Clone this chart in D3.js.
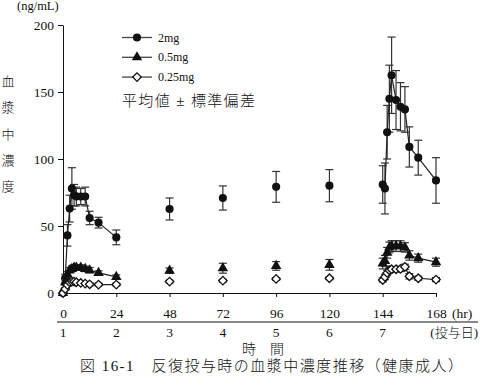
<!DOCTYPE html>
<html>
<head>
<meta charset="utf-8">
<script src="https://cdn.jsdelivr.net/npm/d3@7"></script>
<style>
  body { margin: 0; background: #fff; }
  svg text { font-family: "Liberation Serif", "Noto Sans CJK JP", serif; fill: #111; }
  svg text.jp { font-weight: 300; }
</style>
</head>
<body>
<div id="canvas"></div>
<script>
// sampling times (hr)
var day1Hours = [0, 1, 2, 3, 4, 5, 6, 8, 10, 12, 16, 24];
var troughHours = [48, 72, 96, 120];
var day7Hours = [144, 145, 146, 147, 148, 150, 152, 154, 156, 160, 168];

// 2mg
var mean2mgDay1 = [0, 11, 43, 63, 78, 73, 72, 72, 72, 56, 52.5, 41.5];
var sd2mgDay1 = [0, 3, 8, 10, 15.5, 8, 7, 6, 7, 5, 4, 5.5];
var mean2mgTrough = [62.7, 70.9, 79.2, 80.1];
var sd2mgTrough = [8.2, 9, 11.5, 12];
var mean2mgDay7 = [81, 78, 120, 145, 162.5, 144, 139, 137, 109, 101, 84];
var sd2mgDay7 = [14, 19, 20, 25, 28.5, 22, 18, 17, 15, 13, 17];

// 0.5mg
var mean05Day1 = [0, 8, 14, 17, 18, 19, 19, 19, 18, 17, 15, 12];
var sd05Day1 = [0, 2, 2, 2, 2, 2, 2, 2, 2, 2, 1.5, 1.5];
var mean05Trough = [16.7, 18.5, 20.2, 21];
var sd05Trough = [2, 3.7, 3.2, 4];
var mean05Day7 = [22, 24, 30, 34, 35, 35, 35, 34, 28, 26, 23];
var sd05Day7 = [4, 4, 4, 4, 4, 4, 4, 3.5, 3.5, 3, 3];

// 0.25mg
var mean025Day1 = [0, 3, 6, 8, 8.5, 8.5, 8, 7.5, 7, 6.5, 6.3, 6.3];
var sd025Day1 = [0, 1, 1, 1, 1, 1, 1, 1, 1, 1, 1, 1];
var mean025Trough = [8.5, 9.2, 10.5, 11];
var sd025Trough = [1, 1, 1, 1];
var mean025Day7 = [9.7, 12, 15, 17, 17.7, 17.7, 18, 19.5, 12.5, 11, 10];
var sd025Day7 = [1.5, 2, 2, 2, 2, 2, 2, 2, 2, 1.5, 1.5];

var hourTicks = [0, 24, 48, 72, 96, 120, 144, 168];
var dayLabels = ['1', '2', '3', '4', '5', '6', '7'];
var yTicks = [0, 50, 100, 150, 200];
var seriesNames = ['2mg', '0.5mg', '0.25mg'];

var W = 480, H = 376;
var svg = d3.select('#canvas').append('svg').attr('width', W).attr('height', H);

var x = d3.scaleLinear().domain([0, 168]).range([63, 436]);
var y = d3.scaleLinear().domain([0, 200]).range([293, 25]);

// axes
var yAxis = svg.append('g').attr('transform', 'translate(' + x(0) + ',0)')
  .call(d3.axisLeft(y).tickValues(yTicks).tickSize(5).tickSizeOuter(0).tickPadding(4));
yAxis.selectAll('text').style('font-size', '13.5px');

var xAxis = svg.append('g').attr('transform', 'translate(0,' + y(0) + ')')
  .call(d3.axisBottom(x).tickValues(hourTicks).tickSize(4).tickSizeOuter(0).tickPadding(11));
xAxis.selectAll('text').style('font-size', '13.5px');
svg.selectAll('.domain, .tick line').attr('stroke', '#111');

svg.append('text').attr('x', 452).attr('y', 318).style('font-size', '13.5px').text('(hr)');

svg.append('line').attr('x1', 57).attr('x2', 478).attr('y1', 322).attr('y2', 322)
  .attr('stroke', '#888').attr('stroke-width', 2);

svg.selectAll('.day').data(dayLabels).enter().append('text')
  .attr('class', 'day')
  .attr('x', function(d, i) { return x(hourTicks[i]); })
  .attr('y', 337).attr('text-anchor', 'middle').style('font-size', '13.5px')
  .text(function(d) { return d; });
svg.append('text').attr('class', 'jp').attr('x', 478).attr('y', 337).attr('text-anchor', 'end')
  .style('font-size', '13px').text('(投与日)');

svg.append('text').attr('class', 'jp').attr('x', 263).attr('y', 354).attr('text-anchor', 'middle')
  .style('font-size', '14px').text('時　間');
svg.append('text').attr('class', 'jp').attr('x', 80).attr('y', 371)
  .attr('textLength', 383).attr('lengthAdjust', 'spacing')
  .style('font-size', '15px').text('図 16-1　反復投与時の血漿中濃度推移（健康成人）');

svg.append('text').attr('x', 17).attr('y', 10).style('font-size', '12.5px').text('(ng/mL)');
'血漿中濃度'.split('').forEach(function(c, i) {
  svg.append('text').attr('class', 'jp').attr('x', 8).attr('y', 86 + i * 26.3).attr('text-anchor', 'middle')
    .style('font-size', '13px').text(c);
});

// markers
function marker(g, type) {
  if (type === 0) {
    g.append('path').attr('d', d3.symbol().type(d3.symbolCircle).size(52)).attr('fill', '#111');
  } else if (type === 1) {
    g.append('path').attr('d', d3.symbol().type(d3.symbolTriangle).size(48)).attr('fill', '#111');
  } else {
    g.append('path').attr('d', d3.symbol().type(d3.symbolSquare).size(36))
      .attr('transform', 'rotate(45)').attr('fill', '#fff').attr('stroke', '#111').attr('stroke-width', 1.3);
  }
}

var series = [
  { day1: mean2mgDay1, sd1: sd2mgDay1, tr: mean2mgTrough, sdt: sd2mgTrough, day7: mean2mgDay7, sd7: sd2mgDay7 },
  { day1: mean05Day1, sd1: sd05Day1, tr: mean05Trough, sdt: sd05Trough, day7: mean05Day7, sd7: sd05Day7 },
  { day1: mean025Day1, sd1: sd025Day1, tr: mean025Trough, sdt: sd025Trough, day7: mean025Day7, sd7: sd025Day7 }
];

var line = d3.line().x(function(d) { return x(d.t); }).y(function(d) { return y(d.v); });

series.forEach(function(s, k) {
  var pts1 = day1Hours.map(function(t, i) { return { t: t, v: s.day1[i], sd: s.sd1[i] }; });
  var ptsT = troughHours.map(function(t, i) { return { t: t, v: s.tr[i], sd: s.sdt[i] }; });
  var pts7 = day7Hours.map(function(t, i) { return { t: t, v: s.day7[i], sd: s.sd7[i] }; });
  var all = pts1.concat(ptsT, pts7);

  var g = svg.append('g');
  // error bars
  all.filter(function(d) { return d.sd > 0; }).forEach(function(d) {
    var eb = g.append('g').attr('stroke', '#333').attr('stroke-width', 1.2);
    eb.append('line').attr('x1', x(d.t)).attr('x2', x(d.t)).attr('y1', y(d.v - d.sd)).attr('y2', y(d.v + d.sd));
    [d.v - d.sd, d.v + d.sd].forEach(function(v) {
      eb.append('line').attr('x1', x(d.t) - 4).attr('x2', x(d.t) + 4).attr('y1', y(v)).attr('y2', y(v));
    });
  });
  [pts1, pts7].forEach(function(p) {
    g.append('path').datum(p).attr('d', line).attr('fill', 'none')
      .attr('stroke', '#222').attr('stroke-width', 1.2);
  });
  all.forEach(function(d) {
    var m = g.append('g').attr('transform', 'translate(' + x(d.t) + ',' + y(d.v) + ')');
    marker(m, k);
  });
});

// legend
var lg = svg.append('g');
seriesNames.forEach(function(name, k) {
  var ly = 37.5 + k * 19.8;
  lg.append('line').attr('x1', 122).attr('x2', 152).attr('y1', ly).attr('y2', ly)
    .attr('stroke', '#444').attr('stroke-width', 1.3);
  marker(lg.append('g').attr('transform', 'translate(137,' + ly + ')'), k);
  lg.append('text').attr('x', 158).attr('y', ly + 4).style('font-size', '12px').text(name);
});
svg.append('text').attr('class', 'jp').attr('x', 122).attr('y', 106)
  .attr('textLength', 133).attr('lengthAdjust', 'spacing')
  .style('font-size', '15px').text('平均値 ± 標準偏差');
</script>
</body>
</html>
